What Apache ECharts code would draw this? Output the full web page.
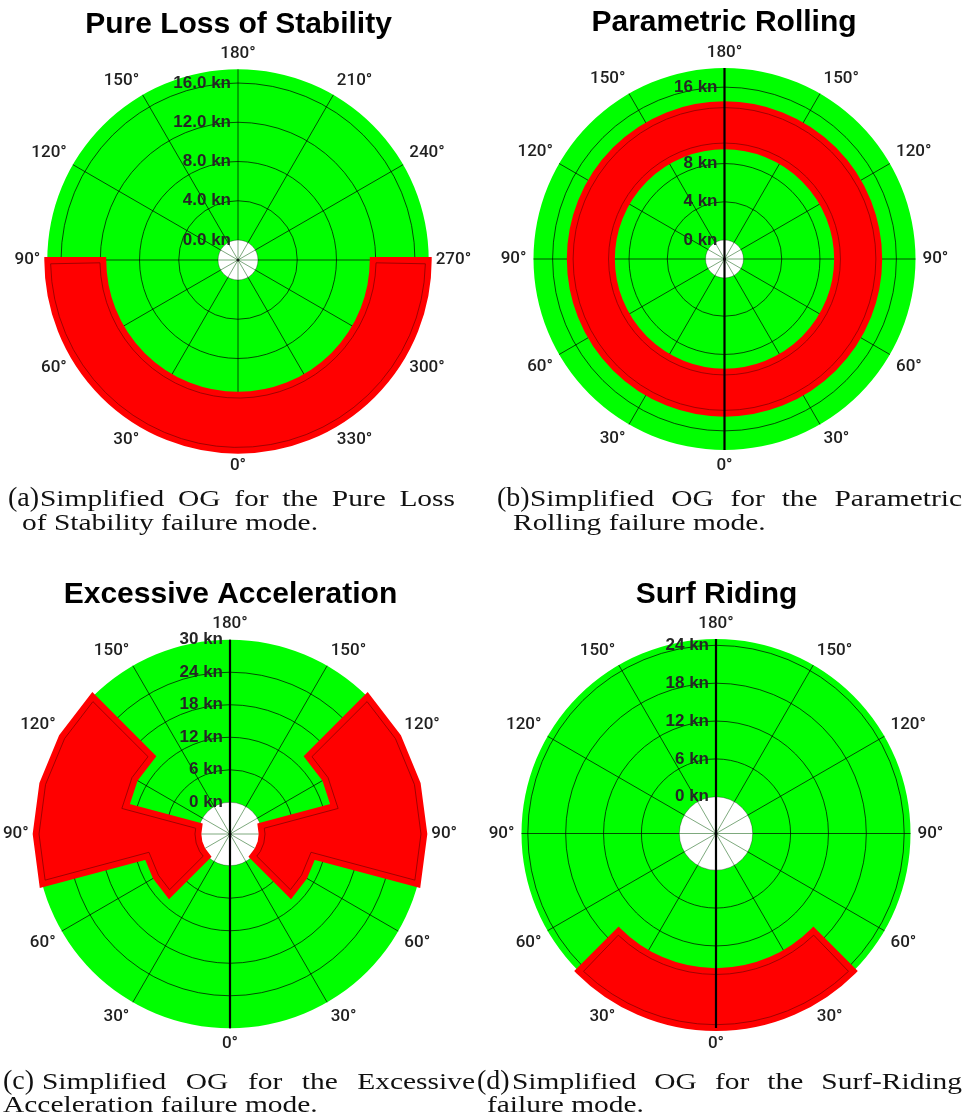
<!DOCTYPE html>
<html>
<head>
<meta charset="utf-8">
<title>Simplified Operational Guidance polar diagrams</title>
<script src="https://cdn.jsdelivr.net/npm/echarts@6/dist/echarts.min.js"></script>
<style>
  html, body { margin: 0; padding: 0; background: #ffffff; }
  #chart { width: 978px; height: 1117px; }
</style>
</head>
<body>
<div id="chart"></div>
<script>
// ---------------------------------------------------------------------------
// Data
// ---------------------------------------------------------------------------
const panelTitles = ['Pure Loss of Stability', 'Parametric Rolling', 'Excessive Acceleration', 'Surf Riding'];

// Heading ticks (deg) and speed ticks (kn) for each polar panel
const headingTicks = [0, 30, 60, 90, 120, 150, 180, 210, 240, 270, 300, 330];
const speedTicks = [
  [0, 4, 8, 12, 16],
  [0, 4, 8, 12, 16],
  [0, 6, 12, 18, 24, 30],
  [0, 6, 12, 18, 24]
];
const speedDigits = [1, 0, 0, 0];
const speedStep = [4, 4, 6, 6];
const speedMax = [17.4, 18, 30, 25];
// 'full' = 0..330 around the dial, 'mirror' = relative heading 0..180 on both sides
const headingStyle = ['full', 'mirror', 'mirror', 'mirror'];

// (a) Pure Loss of Stability: unsafe band from 270 deg through 0 deg to 90 deg
const plsHeading = [270, 450];
const plsSpeed = [11.7, 17.4];

// (b) Parametric Rolling: unsafe ring for every heading
const prHeading = [0, 360];
const prSpeed = [9.8, 14.2];

// (c) Excessive Acceleration: outline of the unsafe zone on one side
//     (relative heading in deg, speed in kn); drawn on port and starboard
const eaHeading = [45, 60, 75, 75, 90, 105, 120, 135, 135, 120, 105, 105, 90, 75, 60, 45];
const eaSpeed   = [10, 10, 10, 30, 30, 30, 30, 30, 14.4, 14.4, 14.0, 0, 0, 0, 0, 0];

// (d) Surf Riding: following-sea band
const srHeading = [-45, 45];
const srSpeed = [16, 25];

// Captions
const captionTag = ['(a)', '(b)', '(c)', '(d)'];
const captionLine1 = [
  'Simplified OG for the Pure Loss',
  'Simplified OG for the Parametric',
  'Simplified OG for the Excessive',
  'Simplified OG for the Surf-Riding'
];
const captionLine2 = [
  'of Stability failure mode.',
  'Rolling failure mode.',
  'Acceleration failure mode.',
  'failure mode.'
];

// ---------------------------------------------------------------------------
// Layout and style
// ---------------------------------------------------------------------------
const panelCenter = [[238, 260], [724.5, 259], [230, 834], [716, 833.5]];
const panelRadius = [[20, 190.7], [19, 191], [31.7, 194.3], [36.7, 194.5]];
const titleCenterX = [238.5, 724, 230.5, 716.5];
const titleBaseline = [33, 31, 603, 603];

const capTagX = [8, 497, 3, 477];
const capLine1Span = [[40, 455], [530, 962], [42, 475], [512, 962]];
const capLine2X = [22, 513, 3, 487];
const capBaseline = [[506, 530], [506, 530], [1089, 1112], [1089, 1112]];

const GREEN = '#00ff00';
const RED = '#ff0000';
const EDGE_DARK = 'rgba(130, 0, 0, 0.75)';
const EDGE_WIDTH = 6;
const EDGE_INSET = 3.3;
const SANS = '"Liberation Sans", Arial, Helvetica, sans-serif';
const SERIF = '"Liberation Serif", "DejaVu Serif", serif';
const INK = '#262626';

// ---------------------------------------------------------------------------
// Helpers
// ---------------------------------------------------------------------------
function headingLabel(style) {
  return function (v) {
    if (v >= 360) return '';
    if (style === 'mirror') return (v <= 180 ? v : 360 - v) + '°';
    return v + '°';
  };
}

// Inward offset of a closed polygon (screen coordinates)
function insetPolygon(pts, d) {
  const n = pts.length;
  let area = 0;
  for (let i = 0; i < n; i++) {
    const a = pts[i], b = pts[(i + 1) % n];
    area += a[0] * b[1] - b[0] * a[1];
  }
  const sgn = area > 0 ? 1 : -1;
  const out = [];
  for (let i = 0; i < n; i++) {
    const p0 = pts[(i - 1 + n) % n], p1 = pts[i], p2 = pts[(i + 1) % n];
    let e1 = [p1[0] - p0[0], p1[1] - p0[1]];
    let e2 = [p2[0] - p1[0], p2[1] - p1[1]];
    const l1 = Math.hypot(e1[0], e1[1]) || 1, l2 = Math.hypot(e2[0], e2[1]) || 1;
    e1 = [e1[0] / l1, e1[1] / l1];
    e2 = [e2[0] / l2, e2[1] / l2];
    const n1 = [-e1[1] * sgn, e1[0] * sgn];
    const n2 = [-e2[1] * sgn, e2[0] * sgn];
    const k = 1 + n1[0] * n2[0] + n1[1] * n2[1];
    const f = k > 0.05 ? d / k : d / 0.05;
    out.push([p1[0] + (n1[0] + n2[0]) * f, p1[1] + (n1[1] + n2[1]) * f]);
  }
  return out;
}

// Annular sector between two headings and two speeds
function bandElements(api, cs, heading, speed) {
  const pIn = api.coord([speed[0], heading[0]]);
  const pOut = api.coord([speed[1], heading[0]]);
  const r0 = Math.hypot(pIn[0] - cs.cx, pIn[1] - cs.cy);
  const r = Math.hypot(pOut[0] - cs.cx, pOut[1] - cs.cy);
  const a0 = Math.atan2(pOut[1] - cs.cy, pOut[0] - cs.cx);
  const span = (heading[1] - heading[0]) * Math.PI / 180;
  const full = Math.abs(span) >= Math.PI * 2 - 1e-6;
  const da = full ? 0 : EDGE_INSET / ((r0 + r) / 2);
  return [
    {
      type: 'sector',
      shape: { cx: cs.cx, cy: cs.cy, r0: r0, r: r, startAngle: a0, endAngle: a0 + span, clockwise: true },
      style: { fill: RED, stroke: RED, lineWidth: EDGE_WIDTH, lineJoin: 'miter' }
    },
    {
      type: 'sector',
      shape: { cx: cs.cx, cy: cs.cy, r0: r0 + EDGE_INSET, r: r - EDGE_INSET,
               startAngle: a0 + da, endAngle: a0 + span - da, clockwise: true },
      style: { fill: 'none', stroke: EDGE_DARK, lineWidth: 1 }
    }
  ];
}

function outlineElements(points) {
  return [
    { type: 'polygon', shape: { points: points },
      style: { fill: RED, stroke: RED, lineWidth: EDGE_WIDTH, lineJoin: 'miter', miterLimit: 10 } },
    { type: 'polygon', shape: { points: insetPolygon(points, EDGE_INSET) },
      style: { fill: 'none', stroke: EDGE_DARK, lineWidth: 1 } }
  ];
}

// ---------------------------------------------------------------------------
// Polar systems and axes
// ---------------------------------------------------------------------------
const panels = [0, 1, 2, 3];

const polar = panels.map(i => ({ center: panelCenter[i], radius: panelRadius[i] }));

const angleAxis = panels.map(i => ({
  polarIndex: i,
  type: 'value',
  min: 0,
  max: 360,
  interval: 30,
  startAngle: 270,
  clockwise: true,
  z: 2,
  axisLine: { show: false },
  axisTick: { show: false },
  splitLine: { show: true, lineStyle: { color: 'rgba(0,0,0,0.78)', width: 0.9 } },
  axisLabel: {
    show: true, margin: 7, color: '#1f1f1f', fontSize: 17,
    fontFamily: 'Roboto, ' + SANS, fontWeight: 500,
    formatter: headingLabel(headingStyle[i])
  }
}));

const radiusAxis = panels.map(i => ({
  polarIndex: i,
  type: 'value',
  min: 0,
  max: speedMax[i],
  interval: speedStep[i],
  z: 2,
  axisLine: { show: false },
  axisTick: { show: false },
  axisLabel: { show: false },
  splitLine: {
    show: true,
    lineStyle: {
      width: 0.9,
      color: ['rgba(0,0,0,0.35)', 'rgba(0,0,0,0.78)', 'rgba(0,0,0,0.78)',
              'rgba(0,0,0,0.78)', 'rgba(0,0,0,0.78)', 'rgba(0,0,0,0)']
    }
  }
}));

// ---------------------------------------------------------------------------
// Series
// ---------------------------------------------------------------------------
const series = [];

panels.forEach(i => {
  // Green dial and the spokes inside the central hole
  series.push({
    type: 'custom', coordinateSystem: 'polar', polarIndex: i, z: 1, silent: true,
    data: [[0, 0]],
    renderItem: function (params, api) {
      const cs = params.coordSys;
      const spokes = headingTicks.map(h => {
        const p = api.coord([0, h]);
        return { type: 'line', shape: { x1: cs.cx, y1: cs.cy, x2: p[0], y2: p[1] },
                 style: { stroke: '#6f9f6f', lineWidth: 0.9 } };
      });
      return {
        type: 'group',
        children: [
          { type: 'sector', shape: { cx: cs.cx, cy: cs.cy, r0: cs.r0, r: cs.r, startAngle: 0, endAngle: Math.PI * 2 },
            style: { fill: GREEN } }
        ].concat(spokes).concat([
          { type: 'circle', shape: { cx: cs.cx, cy: cs.cy, r: 1.6 }, style: { fill: '#1a1a1a' } }
        ])
      };
    }
  });

  // Speed labels along the 180 deg spoke
  series.push({
    type: 'custom', coordinateSystem: 'polar', polarIndex: i, z: 3, silent: true,
    data: speedTicks[i].map(v => [v, 180]),
    renderItem: function (params, api) {
      const v = api.value(0);
      const p = api.coord([v, api.value(1)]);
      return {
        type: 'text', x: p[0] - 7, y: p[1],
        style: {
          text: v.toFixed(speedDigits[i]) + ' kn',
          fill: INK, font: 'bold 17px ' + SANS,
          align: 'right', verticalAlign: 'middle'
        }
      };
    }
  });
});

// Unsafe zones
series.push({
  type: 'custom', coordinateSystem: 'polar', polarIndex: 0, z: 4, silent: true,
  data: [[0, 0]],
  renderItem: (params, api) => ({ type: 'group', children: bandElements(api, params.coordSys, plsHeading, plsSpeed) })
});
series.push({
  type: 'custom', coordinateSystem: 'polar', polarIndex: 1, z: 4, silent: true,
  data: [[0, 0]],
  renderItem: (params, api) => ({ type: 'group', children: bandElements(api, params.coordSys, prHeading, prSpeed) })
});
series.push({
  type: 'custom', coordinateSystem: 'polar', polarIndex: 2, z: 4, silent: true,
  data: [[0, 0]],
  renderItem: function (params, api) {
    const port = eaHeading.map((h, k) => api.coord([eaSpeed[k], h]));
    const starboard = eaHeading.map((h, k) => api.coord([eaSpeed[k], 360 - h]));
    return { type: 'group', children: outlineElements(port).concat(outlineElements(starboard)) };
  }
});
series.push({
  type: 'custom', coordinateSystem: 'polar', polarIndex: 3, z: 4, silent: true,
  data: [[0, 0]],
  renderItem: (params, api) => ({ type: 'group', children: bandElements(api, params.coordSys, srHeading, srSpeed) })
});

// Bold 0-180 deg centre line on the symmetric panels
[1, 2, 3].forEach(i => {
  series.push({
    type: 'custom', coordinateSystem: 'polar', polarIndex: i, z: 5, silent: true,
    data: [[speedMax[i], 0]],
    renderItem: function (params, api) {
      const a = api.coord([api.value(0), 0]);
      const b = api.coord([api.value(0), 180]);
      return { type: 'line', shape: { x1: a[0], y1: a[1], x2: b[0], y2: b[1] },
               style: { stroke: '#000000', lineWidth: 2.2 } };
    }
  });
});

// ---------------------------------------------------------------------------
// Titles and captions
// ---------------------------------------------------------------------------
const measureCtx = document.createElement('canvas').getContext('2d');
function textWidth(str, font) {
  measureCtx.font = font;
  return measureCtx.measureText(str).width;
}

const graphic = [];
const TITLE_SIZE = 30;
panels.forEach(i => {
  graphic.push({
    type: 'text', x: titleCenterX[i], y: titleBaseline[i] + 0.21 * TITLE_SIZE, silent: true,
    style: { text: panelTitles[i], fill: '#000000', font: 'bold ' + TITLE_SIZE + 'px ' + SANS,
             align: 'center', verticalAlign: 'bottom' }
  });
});

const CAP_SIZE = 24;
const TAG_SIZE = 28;
const capFont = CAP_SIZE + 'px ' + SERIF;
const tagFont = TAG_SIZE + 'px ' + SERIF;
// horizontal glyph scale so the first caption's second line spans its width
const capScale = 296 / textWidth(captionLine2[0], capFont);

panels.forEach(i => {
  const base1 = capBaseline[i][0], base2 = capBaseline[i][1];
  graphic.push({
    type: 'text', x: capTagX[i], y: base1 + 0.22 * TAG_SIZE, silent: true,
    style: { text: captionTag[i], fill: '#111', font: tagFont, align: 'left', verticalAlign: 'bottom' }
  });
  // justified first line
  const words = captionLine1[i].split(' ');
  const widths = words.map(w => textWidth(w, capFont) * capScale);
  const total = widths.reduce((s, w) => s + w, 0);
  const span = capLine1Span[i];
  const gap = (span[1] - span[0] - total) / (words.length - 1);
  let x = span[0];
  words.forEach((w, k) => {
    graphic.push({
      type: 'text', x: x, y: base1 + 0.22 * CAP_SIZE, scaleX: capScale, silent: true,
      style: { text: w, fill: '#111', font: capFont, align: 'left', verticalAlign: 'bottom' }
    });
    x += widths[k] + gap;
  });
  graphic.push({
    type: 'text', x: capLine2X[i], y: base2 + 0.22 * CAP_SIZE, scaleX: capScale, silent: true,
    style: { text: captionLine2[i], fill: '#111', font: capFont, align: 'left', verticalAlign: 'bottom' }
  });
});

// ---------------------------------------------------------------------------
const chart = echarts.init(document.getElementById('chart'), null, { renderer: 'canvas' });
chart.setOption({
  animation: false,
  backgroundColor: '#ffffff',
  polar: polar,
  angleAxis: angleAxis,
  radiusAxis: radiusAxis,
  series: series,
  graphic: graphic
});
</script>
</body>
</html>
